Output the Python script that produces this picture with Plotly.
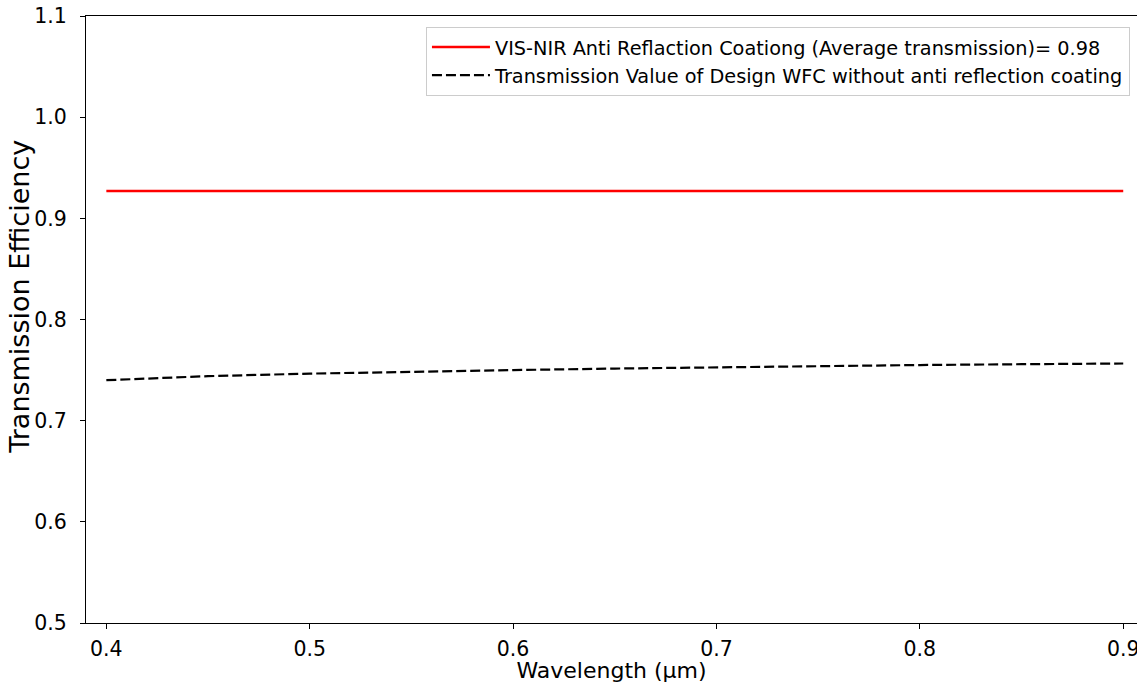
import plotly.graph_objects as go

wavelength = [0.40, 0.45, 0.50, 0.55, 0.60, 0.65, 0.70, 0.75, 0.80, 0.85, 0.90]
ar_coating = [0.927] * len(wavelength)
no_coating = [0.740, 0.7440, 0.7465, 0.7485, 0.7500, 0.7515, 0.7528, 0.7540, 0.7550, 0.7558, 0.7565]

name_ar = "VIS-NIR Anti Reflaction Coationg (Average transmission)= 0.98"
name_no = "Transmission Value of Design WFC without anti reflection coating"
x_title = "Wavelength (μm)"
y_title = "Transmission Efficiency"

font = "DejaVu Sans"

fig = go.Figure()
fig.add_trace(go.Scatter(x=wavelength, y=ar_coating, mode="lines", name=name_ar,
                         line=dict(color="red", width=2.5)))
fig.add_trace(go.Scatter(x=wavelength, y=no_coating, mode="lines", name=name_no,
                         line=dict(color="black", width=2.2, dash="10px,4px")))

fig.update_layout(
    width=1137, height=683,
    margin=dict(l=86, r=0, t=16, b=60, autoexpand=False),
    paper_bgcolor="white", plot_bgcolor="white",
    font=dict(family=font, size=20, color="black"),
    legend=dict(x=0.9933, y=0.982, xanchor="right", yanchor="top",
                bgcolor="rgba(255,255,255,0.8)", bordercolor="#cccccc", borderwidth=1,
                font=dict(size=19.3), itemwidth=58, tracegroupgap=0),
)
fig.update_xaxes(range=[0.39, 0.90677], tickvals=[0.4, 0.5, 0.6, 0.7, 0.8, 0.9],
                 ticktext=["0.4", "0.5", "0.6", "0.7", "0.8", "0.9"],
                 tickfont=dict(size=20.5), ticklabeloverflow="allow", automargin=False,
                 showgrid=False, zeroline=False, showline=True, linecolor="black", linewidth=1,
                 mirror=True, ticks="outside", ticklen=5, tickcolor="black",
                 ticklabelstandoff=2,
                 title=dict(text=x_title, standoff=3, font=dict(size=22)))
fig.update_yaxes(range=[0.5, 1.1], tickvals=[0.5, 0.6, 0.7, 0.8, 0.9, 1.0, 1.1],
                 ticktext=["0.5", "0.6", "0.7", "0.8", "0.9", "1.0", "1.1"],
                 tickfont=dict(size=20.5), automargin=False,
                 showgrid=False, zeroline=False, showline=True, linecolor="black", linewidth=1,
                 ticks="outside", ticklen=5, tickcolor="black",
                 ticklabelstandoff=9)
fig.add_annotation(text=y_title, textangle=-90, xref="paper", yref="paper",
                   x=-0.0628, y=0.5374, xanchor="center", yanchor="middle",
                   showarrow=False, font=dict(size=27))

fig.write_html("out.html")
